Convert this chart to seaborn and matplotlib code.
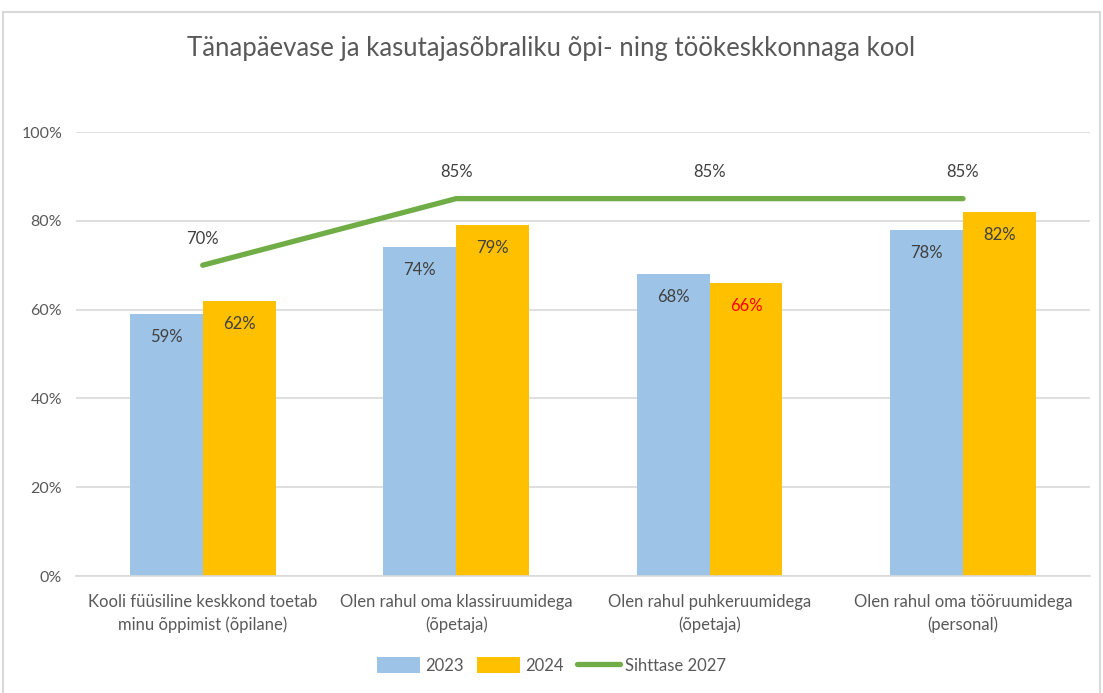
import matplotlib
matplotlib.use("Agg")
import matplotlib.pyplot as plt
import seaborn as sns
import pandas as pd
from matplotlib.patches import Patch, Rectangle
from matplotlib.lines import Line2D

categories = [
    "Kooli füüsiline keskkond toetab\nminu õppimist (õpilane)",
    "Olen rahul oma klassiruumidega\n(õpetaja)",
    "Olen rahul puhkeruumidega\n(õpetaja)",
    "Olen rahul oma tööruumidega\n(personal)",
]
values_2023 = [0.59, 0.74, 0.68, 0.78]
values_2024 = [0.62, 0.79, 0.66, 0.82]
target_2027 = [0.70, 0.85, 0.85, 0.85]
series_names = ["2023", "2024"]
target_name = "Sihttase 2027"
title = "Tänapäevase ja kasutajasõbraliku õpi- ning töökeskkonnaga kool"

sns.set_theme(style="white")
plt.rcParams["font.family"] = ["Lato", "DejaVu Sans"]

df = pd.DataFrame({
    "cat": categories * 2,
    "year": [series_names[0]] * 4 + [series_names[1]] * 4,
    "val": values_2023 + values_2024,
})

fig = plt.figure(figsize=(11.03, 6.93), dpi=100)
ax = fig.add_axes([0.0689, 0.1688, 0.9191, 0.6407])

blue, yellow, green = "#9DC3E6", "#FFC000", "#70AD47"
sns.barplot(data=df, x="cat", y="val", hue="year", palette=[blue, yellow],
            width=0.575, gap=0, ax=ax, legend=False, saturation=1, errorbar=None,
            linewidth=0, edgecolor="none")

pos = list(range(len(categories)))
ax.plot(pos, target_2027, color=green, lw=3.8, solid_capstyle="round", zorder=5)

txt = "#404040"
for i, v in enumerate(target_2027):
    ax.annotate(f"{round(v*100)}%", (i, v), xytext=(0, 19), textcoords="offset points",
                ha="center", va="center", fontsize=12, color=txt)

for k, (cont, vals) in enumerate(zip(ax.containers, [values_2023, values_2024])):
    for j, (bar, v) in enumerate(zip(cont, vals)):
        x = bar.get_x() + bar.get_width() / 2
        col = "#FF0000" if (k == 1 and j == 2) else txt
        ax.annotate(f"{round(v*100)}%", (x, v), xytext=(0, -16.5), textcoords="offset points",
                    ha="center", va="center", fontsize=12, color=col)

ax.set_xlim(-0.5, 3.5)
ax.set_ylim(0, 1.0)
ticks = [0, 0.2, 0.4, 0.6, 0.8, 1.0]
ax.set_yticks(ticks)
ax.set_yticklabels([f"{int(round(t*100))}%" for t in ticks])
ax.yaxis.grid(True, color="#D9D9D9", lw=1.2)
ax.set_axisbelow(True)
for s in ["top", "right", "left"]:
    ax.spines[s].set_visible(False)
ax.spines["bottom"].set_color("#D9D9D9")
ax.spines["bottom"].set_linewidth(1.2)
ax.tick_params(axis="y", length=0, labelsize=11.5, colors="#595959", pad=10)
ax.tick_params(axis="x", length=0, labelsize=12, colors="#595959", pad=13)
for lab in ax.get_xticklabels():
    lab.set_linespacing(1.45)
ax.set_xlabel("")
ax.set_ylabel("")

fig.text(0.5, 0.93, title, ha="center", va="center", fontsize=18.5, color="#595959")

handles = [Patch(facecolor=blue, edgecolor="none"), Patch(facecolor=yellow, edgecolor="none"),
           Line2D([0], [0], color=green, lw=3.8)]
fig.legend(handles, series_names + [target_name], loc="center", bbox_to_anchor=(0.5, 0.04),
           ncol=3, frameon=False, fontsize=12, labelcolor="#595959",
           handlelength=2.6, handleheight=1.1, columnspacing=0.8, handletextpad=0.3)

fig.patches.append(Rectangle((0.003, -0.05), 0.994, 1.033, transform=fig.transFigure,
                             fill=False, edgecolor="#D9D9D9", lw=1.5))

fig.savefig("out.png", dpi=100)
